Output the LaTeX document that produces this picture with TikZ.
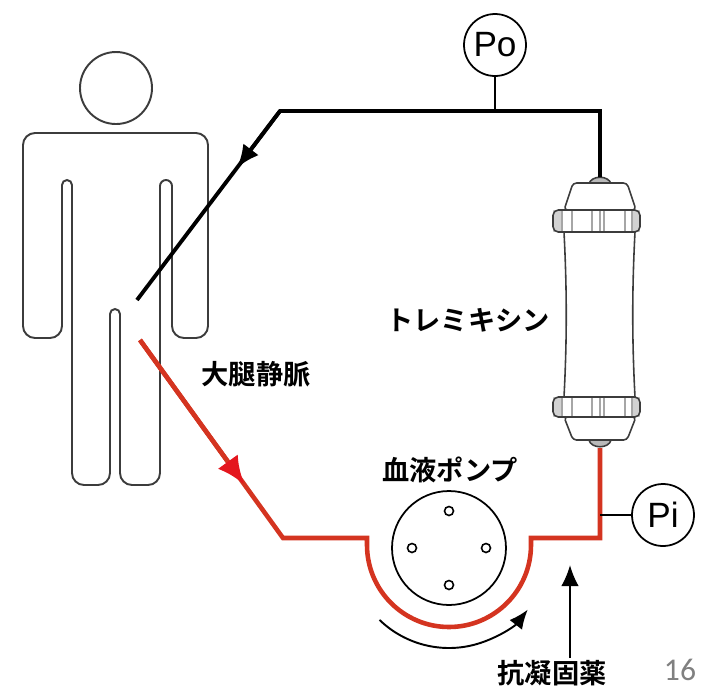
\documentclass[tikz,border=0pt]{standalone}
\usepackage{fontspec}
\setmainfont{Liberation Sans}
\newfontfamily\jpfont{Noto Sans CJK JP Bold}
\newfontfamily\pagefont{Carlito}
\usetikzlibrary{calc,arrows.meta}
\definecolor{tubered}{RGB}{212,52,32}
\definecolor{tipred}{RGB}{228,22,30}
\definecolor{outline}{RGB}{60,60,60}

\begin{document}
\begin{tikzpicture}[x=0.02cm, y=0.02cm,
    figure/.style={draw=outline, line width=1.1pt},
    tube/.style={line width=2.2pt, black},
    blood/.style={line width=2.6pt, tubered},
    gauge/.style={circle, draw, line width=1pt, minimum size=1.24cm, inner sep=0pt, font=\fontsize{20}{20}\selectfont},
    lbl/.style={font=\jpfont\fontsize{15.5}{15.5}\selectfont, inner sep=1pt},
    filterline/.style={draw=outline, line width=0.9pt}]
    \useasboundingbox (0,0) rectangle (704,-691);

    \draw[figure] (116,-88) circle (36);
    \draw[figure] (35,-133) -- (196,-133) arc (90:0:12) -- (208,-326) arc (0:-90:12) -- (184,-338) arc (270:180:12)
        -- (172,-186) arc (0:180:6) -- (160,-473) arc (0:-90:12) -- (132,-485) arc (270:180:12)
        -- (120,-314) arc (0:180:5) -- (110,-473) arc (0:-90:12) -- (84,-485) arc (270:180:12)
        -- (72,-185) arc (0:180:5) -- (62,-326) arc (0:-90:12) -- (35,-338) arc (270:180:12)
        -- (23,-145) arc (180:90:12) -- cycle;

    \coordinate (FilterIn) at (600,-177);
    \coordinate (FilterOut) at (600,-448);
    \coordinate (Bend) at (280,-111);
    \coordinate (VeinIn) at (137,-300);
    \coordinate (VeinOut) at (140,-340);
    \coordinate (Knee) at (283,-538);
    \coordinate (Inject) at (570,-565);

    \draw[filterline, fill=gray!55] (589,-184) .. controls (591,-175) and (609,-175) .. (611,-184);
    \draw[filterline, fill=gray!55] (589,-440) .. controls (591,-449) and (609,-449) .. (611,-440);
    \draw[filterline, fill=white, rounded corners=2pt] (573,-183) -- (627,-183) -- (636,-210) -- (564,-210) -- cycle;
    \draw[filterline, fill=white, rounded corners=2pt] (564,-417) -- (636,-417) -- (627,-440) -- (573,-440) -- cycle;
    \draw[filterline] (564,-232) .. controls (567,-290) and (567,-340) .. (564,-397);
    \draw[filterline] (635,-232) .. controls (632,-290) and (632,-340) .. (635,-397);
    \foreach \yb/\ye in {-210/-232, -397/-417} {
        \fill[gray!35] (553,\yb) rectangle (562,\ye);
        \fill[gray!35] (632,\yb) rectangle (640,\ye);
        \foreach \xs in {562,572,592,600,604,625,632}
            \draw[gray!70, line width=0.8pt] (\xs,\yb) -- (\xs,\ye);
        \draw[filterline, rounded corners=3pt] (553,\yb) rectangle (640,\ye);
    }

    \node[gauge] (po) at (495,-45) {Po};
    \node[gauge] (pi) at (663,-515) {Pi};
    \draw[line width=0.9pt] (po) -- (po |- Bend);
    \draw[tube] (FilterIn) |- (Bend) -- (VeinIn);
    \draw[tube, -{Latex[length=13pt, width=11pt]}] (Bend) -- ($(Bend)!0.3!(VeinIn)$);

    \node[circle, draw, line width=1pt, minimum size=2.28cm] (pump) at (449,-548) {};
    \foreach \a in {0,90,180,270}
        \draw[line width=0.9pt] (pump.center) ++(\a:37) circle (4.5);

    \draw[blood, line join=miter] (VeinOut) -- (Knee) -- (367,-538) -- (367,-545) arc (180:360:82)
        -- (531,-538) -- (FilterOut |- 0,-538) -- (FilterOut);
    \draw[blood, -{Latex[length=16pt, width=14pt, color=tipred]}] (VeinOut) -- ($(VeinOut)!0.73!(Knee)$);
    \draw[line width=0.9pt] (pi) -- (pi -| FilterOut);

    \draw[line width=1.1pt, -{Latex[length=11pt, width=9pt]}] ($(pump.center)+(226:100)$) arc (226:322:100);

    \node[lbl] (drug) at (552,-673) {抗凝固薬};
    \draw[line width=1.1pt, -{Latex[length=12pt, width=10pt]}] (drug.north -| Inject) -- (Inject);

    \node[lbl] (filter) at (468,-320) {トレミキシン};
    \node[lbl] (vein) at (256,-374) {大腿静脈};
    \node[lbl] (pumplbl) at (450,-470) {血液ポンプ};
    \node[text=gray, font=\pagefont\fontsize{18}{18}\selectfont] (page) at (680,-670) {16};
\end{tikzpicture}
\end{document}
